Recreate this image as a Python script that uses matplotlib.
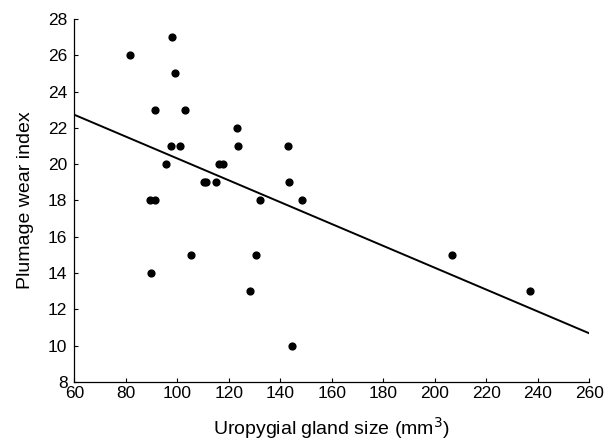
import matplotlib
matplotlib.use("Agg")
import matplotlib.pyplot as plt
import numpy as np

plt.rcParams['font.family'] = ['Liberation Sans', 'DejaVu Sans']

gland_size = [81.5, 97.9, 99.1, 91.2, 102.8, 123.1, 123.6, 97.4, 101.2, 142.8,
              95.6, 116.2, 117.7, 110.4, 111.2, 115.1, 143.5, 89.4, 91.3, 132.2,
              148.5, 89.9, 105.4, 130.5, 128.3, 144.5, 206.6, 237.1]
wear_index = [26, 27, 25, 23, 23, 22, 21, 21, 21, 21,
              20, 20, 20, 19, 19, 19, 19, 18, 18, 18,
              18, 14, 15, 15, 13, 10, 15, 13]

fit_intercept = 26.33
fit_slope = -0.0602

x_ticks = list(range(60, 261, 20))
y_ticks = list(range(8, 29, 2))

fig = plt.figure(figsize=(6.05, 4.4), dpi=100)
ax = fig.add_axes([0.123, 0.132, 0.851, 0.825])

ax.scatter(gland_size, wear_index, s=24, color='black', zorder=3)
xl = np.array([60, 260])
ax.plot(xl, fit_intercept + fit_slope * xl, color='black', lw=1.4)

ax.set_xlim(60, 260)
ax.set_ylim(8, 28)
ax.set_xticks(x_ticks)
ax.set_yticks(y_ticks)
ax.tick_params(direction='in', length=3, labelsize=12.5, width=0.8)
ax.tick_params(axis='y', pad=5)
ax.tick_params(axis='x', pad=3)
for s in ['top', 'right']:
    ax.spines[s].set_visible(False)
for s in ['left', 'bottom']:
    ax.spines[s].set_linewidth(0.9)

ax.set_xlabel('Uropygial gland size (mm$^3$)', fontsize=14, labelpad=10)
ax.set_ylabel('Plumage wear index', fontsize=14, labelpad=10)

fig.savefig('out.png', dpi=100)
